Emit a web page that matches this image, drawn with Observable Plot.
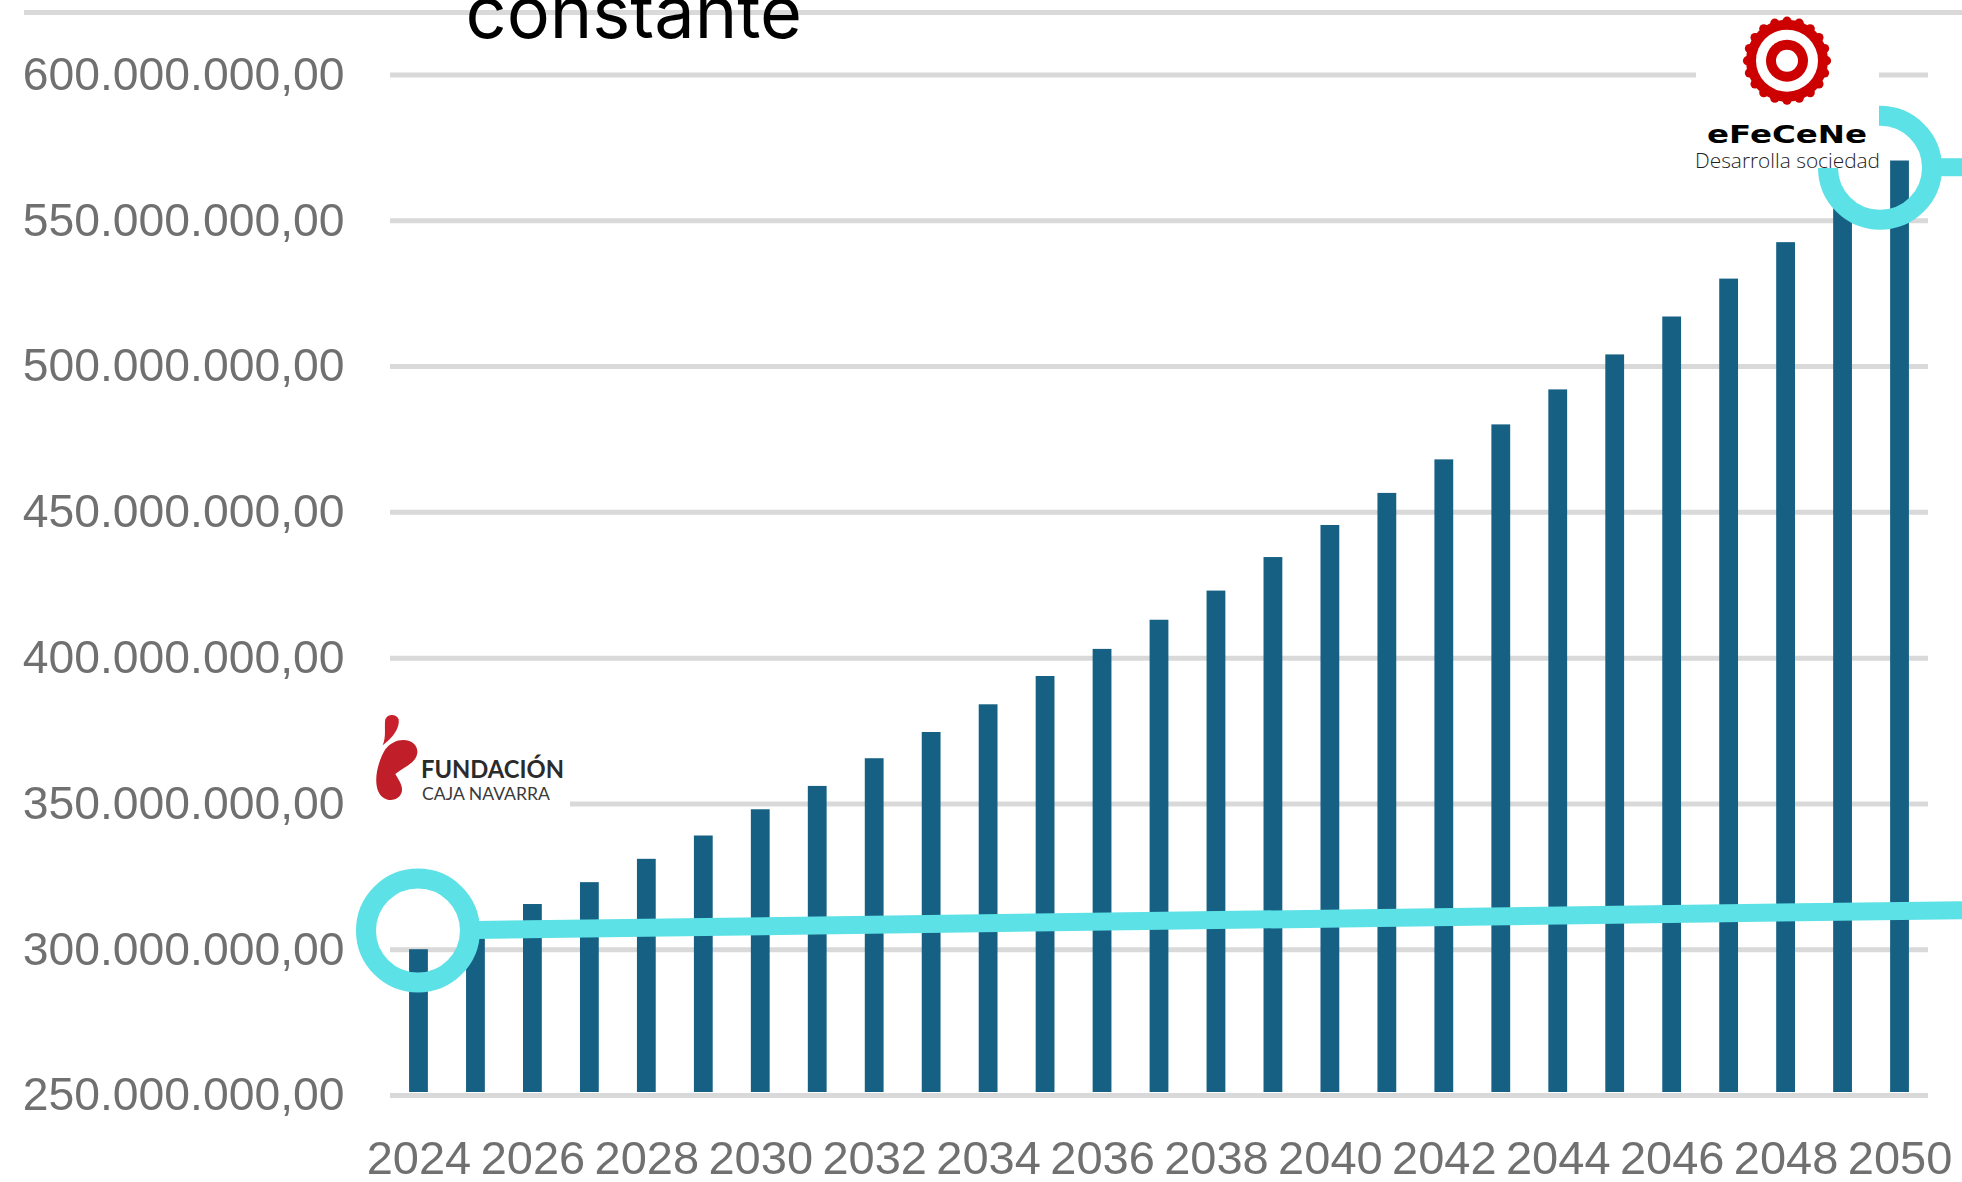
<!DOCTYPE html>
<html>
<head>
<meta charset="utf-8">
<script src="https://cdn.jsdelivr.net/npm/d3@7"></script>
<script src="https://cdn.jsdelivr.net/npm/@observablehq/plot@0.6"></script>
<style>
html,body{margin:0;padding:0;background:#fff;overflow:hidden}
svg{display:block}
[aria-label="y-axis tick label"],[aria-label="x-axis tick label"]{filter:blur(0.7px)}
[aria-label="bar"]{filter:blur(0.5px)}
</style>
</head>
<body>
<div id="chart"></div>
<script>
const years = [2024,2025,2026,2027,2028,2029,2030,2031,2032,2033,2034,2035,2036,2037,2038,2039,2040,2041,2042,2043,2044,2045,2046,2047,2048,2049,2050];
const values = [300,307,315.5,323,331,339,348,356,365.5,374.5,384,393.7,403,413,423,434.5,445.5,456.5,468,480,492,504,517,530,542.5,556,570.5].map(v => v * 1e6);
const yTicks = [250,300,350,400,450,500,550,600].map(v => v * 1e6);
const xTicks = [2024,2026,2028,2030,2032,2034,2036,2038,2040,2042,2044,2046,2048,2050];
const title = "constante";
const rings = [{year: 2024, value: 306.6e6}, {year: 2050, value: 568.2e6}];
const trendStart = 306.6e6, trendEnd = 313.4e6;

const esFormat = d3.formatLocale({decimal: ",", thousands: ".", grouping: [3], currency: ["", ""]}).format(",.2f");
const table = years.map((year, i) => ({year, value: values[i]}));
const TEAL = "#5ce1e6", GRID = "#d9d9d9", BAR = "#166083", LABEL = "#707070";

function topRule(index, scales, vals, dim) {
  const g = d3.create("svg:g");
  g.append("line").attr("x1", 24).attr("x2", dim.width).attr("y1", 12.5).attr("y2", 12.5)
    .attr("stroke", GRID).attr("stroke-width", 5);
  return g.node();
}

function trend(index, scales, vals, dim) {
  const g = d3.create("svg:g");
  g.append("line").attr("x1", 476).attr("x2", dim.width)
    .attr("y1", scales.y(trendStart)).attr("y2", scales.y(trendEnd))
    .attr("stroke", TEAL).attr("stroke-width", 18);
  g.append("line").attr("x1", 1936).attr("x2", dim.width)
    .attr("y1", scales.y(rings[1].value)).attr("y2", scales.y(rings[1].value))
    .attr("stroke", TEAL).attr("stroke-width", 18);
  return g.node();
}

function logos() {
  const g = d3.create("svg:g").attr("text-anchor", "start");
  // eFeCeNe
  g.append("rect").attr("x", 1696).attr("y", 17).attr("width", 183).attr("height", 151).attr("fill", "#fff");
  const cx = 1787, cy = 60.7;
  d3.range(20).forEach(i => {
    const a = i / 20 * 2 * Math.PI;
    g.append("circle").attr("cx", cx + 39.5 * Math.cos(a)).attr("cy", cy + 39.5 * Math.sin(a)).attr("r", 4.6).attr("fill", "#cc0000");
  });
  [[41, "#cc0000"], [31, "#fff"], [21, "#cc0000"], [11, "#fff"]].forEach(([r, f]) =>
    g.append("circle").attr("cx", cx).attr("cy", cy).attr("r", r).attr("fill", f));
  g.append("text").attr("x", 1707).attr("y", 143).attr("textLength", 160).attr("lengthAdjust", "spacingAndGlyphs")
    .attr("font-family", "'DejaVu Sans'").attr("font-weight", 700).attr("font-size", 25).attr("fill", "#000").text("eFeCeNe");
  g.append("text").attr("x", 1695).attr("y", 168).attr("textLength", 185).attr("lengthAdjust", "spacingAndGlyphs")
    .attr("font-family", "'Open Sans'").attr("font-weight", 300).attr("font-size", 20).attr("fill", "#222").text("Desarrolla sociedad");
  // Fundación Caja Navarra
  g.append("rect").attr("x", 365).attr("y", 705).attr("width", 205).attr("height", 103).attr("fill", "#fff");
  const f = g.append("g").attr("transform", "translate(340,680) scale(0.3333)");
  f.append("path").attr("fill", "#c8202c")
    .attr("d", "M128,196 C140,170 132,140 136,118 C142,102 168,100 176,118 C180,150 150,180 128,196 Z");
  f.append("path").attr("fill", "#c01f2a")
    .attr("d", "M190,180 C218,180 234,198 232,218 C228,250 190,262 166,282 C176,300 192,320 184,340 C172,368 128,368 114,332 C100,296 116,240 136,208 C150,190 170,180 190,180 Z");
  g.append("text").attr("x", 421).attr("y", 778).attr("textLength", 143).attr("lengthAdjust", "spacingAndGlyphs")
    .attr("font-family", "Lato").attr("font-weight", 700).attr("font-size", 24).attr("fill", "#2b2b2b").text("FUNDACIÓN");
  g.append("text").attr("x", 422).attr("y", 800).attr("textLength", 128).attr("lengthAdjust", "spacingAndGlyphs")
    .attr("font-family", "Lato").attr("font-weight", 400).attr("font-size", 17).attr("fill", "#3a3a3a").text("CAJA NAVARRA");
  return g.node();
}

const plot = Plot.plot({
  width: 1962,
  height: 1182,
  marginLeft: 390,
  marginRight: 34,
  marginTop: 74.5,
  marginBottom: 87,
  style: {background: "#fff", fontFamily: "'Liberation Sans'", overflow: "hidden"},
  x: {type: "band", domain: years, paddingInner: 0.67, paddingOuter: 0.335, round: false, label: null},
  y: {domain: [250e6, 600e6], label: null},
  marks: [
    Plot.ruleY(yTicks, {stroke: GRID, strokeWidth: 5}),
    topRule,
    Plot.barY(table, {x: "year", y1: 250e6, y2: "value", fill: BAR, insetBottom: 3}),
    Plot.axisY({ticks: yTicks, tickSize: 0, tickPadding: 46, tickFormat: esFormat, fontSize: 46.3, label: null, fill: LABEL}),
    Plot.axisX({ticks: xTicks, tickSize: 0, tickPadding: 45, tickFormat: d => String(d), fontSize: 47, label: null, fill: LABEL}),
    Plot.dot([rings[0]], {x: "year", y: "value", r: 52, stroke: TEAL, strokeWidth: 20, fill: "none", dx: -1}),
    Plot.dot([rings[1]], {x: "year", y: "value", r: 52, stroke: TEAL, strokeWidth: 20, fill: "none", dx: -20}),
    trend,
    logos,
    Plot.text([title], {frameAnchor: "top-left", dx: -390 + 465, dy: -74.5 + 37, lineAnchor: "bottom", fontSize: 72, fontFamily: "Inter", fill: "#000", text: d => d})
  ]
});
document.getElementById("chart").appendChild(plot);
</script>
</body>
</html>
